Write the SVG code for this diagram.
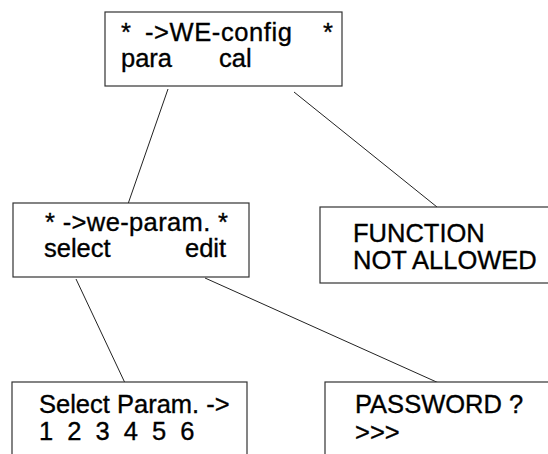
<svg xmlns="http://www.w3.org/2000/svg" width="548" height="454" viewBox="0 0 548 454">
<style>
.box{fill:#fff;stroke:#333;stroke-width:1.2}
.t{font-family:"Liberation Sans",Arial,sans-serif;font-size:25.5px;fill:#000;stroke:#000;stroke-width:0.35}
.c{stroke:#222;stroke-width:1;fill:none}
</style>
<rect width="548" height="454" fill="#fff"/>
<g id="connectors">
<line class="c" x1="168" y1="89" x2="128" y2="204"/>
<line class="c" x1="294" y1="92" x2="437" y2="207"/>
<line class="c" x1="76" y1="279" x2="125" y2="383"/>
<line class="c" x1="205" y1="278" x2="441" y2="384"/>
</g>
<g id="we-config">
<rect class="box" x="105" y="12" width="237" height="74"/>
<text class="t" y="41"><tspan x="121">* </tspan><tspan x="145" textLength="147" lengthAdjust="spacing">-&gt;WE-config</tspan><tspan x="323">*</tspan></text>
<text class="t" y="67"><tspan x="121">para </tspan><tspan x="219">cal</tspan></text>
</g>
<g id="we-param">
<rect class="box" x="13" y="203" width="236" height="74"/>
<text class="t" x="45" y="231" textLength="183" lengthAdjust="spacing">* -&gt;we-param. *</text>
<text class="t" y="257"><tspan x="44">select </tspan><tspan x="185">edit</tspan></text>
</g>
<g id="not-allowed">
<rect class="box" x="320" y="207" width="240" height="76"/>
<text class="t" x="353" y="242">FUNCTION</text>
<text class="t" x="353" y="269">NOT ALLOWED</text>
</g>
<g id="select-param">
<rect class="box" x="12" y="382" width="235" height="90"/>
<text class="t" x="39" y="413">Select Param. -&gt;</text>
<text class="t" x="39" y="440" word-spacing="7">1 2 3 4 5 6</text>
</g>
<g id="password">
<rect class="box" x="325" y="382" width="240" height="90"/>
<text class="t" x="355" y="413">PASSWORD ?</text>
<text class="t" x="355" y="441">&gt;&gt;&gt;</text>
</g>
</svg>
